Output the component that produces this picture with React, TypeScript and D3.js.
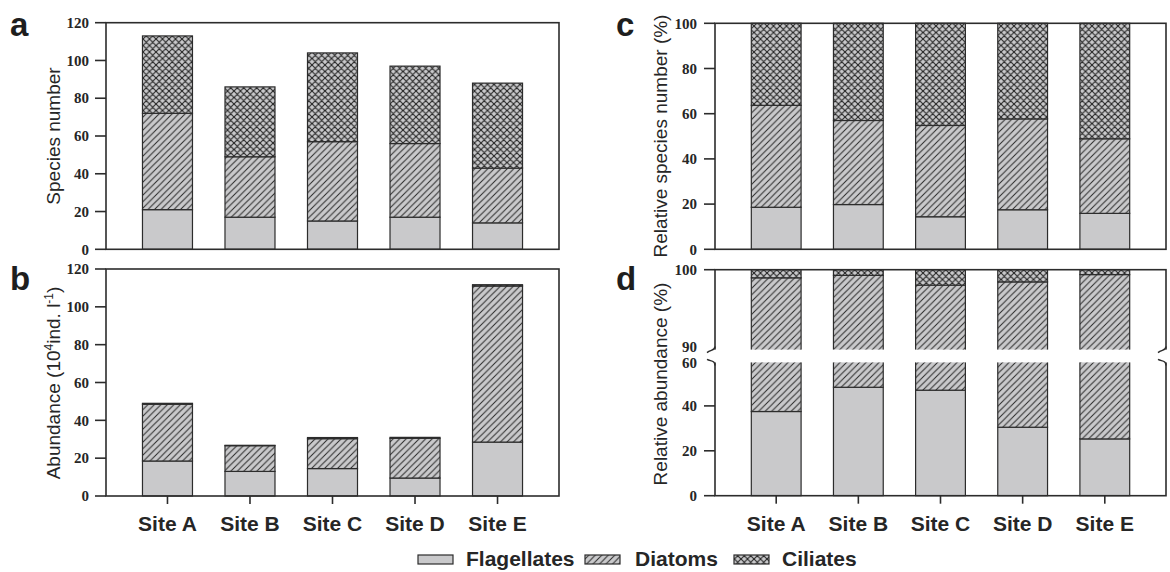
import React from "react";
import * as d3 from "d3";

const sites = ["Site A", "Site B", "Site C", "Site D", "Site E"];
const groups = ["Flagellates", "Diatoms", "Ciliates"];

// a: species number
const speciesFlagellates = [21, 17, 15, 17, 14];
const speciesDiatoms = [51, 32, 42, 39, 29];
const speciesCiliates = [41, 37, 47, 41, 45];
// b: abundance (10^4 ind. l-1)
const abundFlagellates = [18.5, 13, 14.5, 9.5, 28.5];
const abundDiatoms = [30, 13.6, 15.8, 21, 82.5];
const abundCiliates = [0.5, 0.2, 0.6, 0.5, 0.7];
// c: relative species number (%)
const relSpFlagellates = [18.6, 19.8, 14.4, 17.5, 15.9];
const relSpDiatoms = [45.1, 37.2, 40.4, 40.2, 33.0];
const relSpCiliates = [36.3, 43.0, 45.2, 42.3, 51.1];
// d: relative abundance (%)
const relAbFlagellates = [37.5, 48.3, 47.0, 30.5, 25.3];
const relAbDiatoms = [61.5, 51.0, 51.1, 68.0, 74.1];
const relAbCiliates = [1.0, 0.7, 1.9, 1.5, 0.6];

const ticksAB = [0, 20, 40, 60, 80, 100, 120];
const ticksC = [0, 20, 40, 60, 80, 100];
const ticksDLow = [0, 20, 40, 60];
const ticksDUp = [90, 100];

const GRAY = "#c9c9cb";
const INK = "#2c2c2c";
const TEXT = "#262626";
const fills: Record<string, string> = {
  Flagellates: GRAY,
  Diatoms: "url(#hatchDiag)",
  Ciliates: "url(#hatchCross)",
};

function makeStack(f: number[], d: number[], c: number[]) {
  const rows = sites.map((s, i) => ({ site: s, Flagellates: f[i], Diatoms: d[i], Ciliates: c[i] }));
  return d3.stack<any>().keys(groups)(rows);
}

function xScale(left: number, right: number) {
  return d3.scaleBand<string>().domain(sites).range([left, right]).paddingInner(0.394).paddingOuter(0.442);
}

const tickFont = { fontFamily: "'Liberation Serif', 'Times New Roman', serif", fontWeight: 700, fontSize: 15, fill: TEXT };
const titleFont = { fontFamily: "'Liberation Sans', Arial, sans-serif", fontSize: 19, fill: TEXT };
const letterFont = { fontFamily: "'Liberation Sans', Arial, sans-serif", fontWeight: 700, fontSize: 33, fill: "#1e1e1e" };
const siteFont = { fontFamily: "'Liberation Sans', Arial, sans-serif", fontWeight: 700, fontSize: 21, fill: TEXT };

function SimplePanel({ left, right, top, bottom, max, ticks, stack, xTicks, labelX }: any) {
  const x = xScale(left, right);
  const y = d3.scaleLinear().domain([0, max]).range([bottom, top]);
  return (
    <g>
      {stack.map((ser: any) =>
        ser.map((d: any, i: number) => (
          <rect
            key={ser.key + i}
            x={x(sites[i])}
            width={x.bandwidth()}
            y={y(d[1])}
            height={Math.max(0, y(d[0]) - y(d[1]))}
            fill={fills[ser.key]}
            stroke={INK}
            strokeWidth={1.2}
          />
        ))
      )}
      <rect x={left} y={top} width={right - left} height={bottom - top} fill="none" stroke={INK} strokeWidth={1.6} />
      {ticks.map((t: number) => (
        <g key={t}>
          <line x1={left - 11} x2={left} y1={y(t)} y2={y(t)} stroke={INK} strokeWidth={1.6} />
          <text x={labelX} y={y(t)} dy="0.35em" textAnchor="end" {...tickFont}>{t}</text>
        </g>
      ))}
      {xTicks &&
        sites.map((s) => (
          <line key={s} x1={x(s)! + x.bandwidth() / 2} x2={x(s)! + x.bandwidth() / 2} y1={bottom} y2={bottom + 8} stroke={INK} strokeWidth={1.6} />
        ))}
    </g>
  );
}

function BrokenPanel({ left, right, top, bottom, stack, labelX }: any) {
  const x = xScale(left, right);
  const yUp = d3.scaleLinear().domain([90, 100]).range([351, top]);
  const yLow = d3.scaleLinear().domain([0, 60]).range([bottom, 361]);
  const gapTop = 349.6;
  const gapBot = 362.4;
  return (
    <g>
      {stack.map((ser: any) =>
        ser.map((d: any, i: number) => {
          const parts: any[] = [];
          if (d[0] < 60) {
            const a = yLow(Math.min(d[1], 60));
            const b = yLow(d[0]);
            parts.push(<rect key={"l" + ser.key + i} x={x(sites[i])} width={x.bandwidth()} y={a} height={Math.max(0, b - a)} fill={fills[ser.key]} stroke={INK} strokeWidth={1.2} />);
          }
          if (d[1] > 90) {
            const a = yUp(d[1]);
            const b = yUp(Math.max(d[0], 90));
            parts.push(<rect key={"u" + ser.key + i} x={x(sites[i])} width={x.bandwidth()} y={a} height={Math.max(0, b - a)} fill={fills[ser.key]} stroke={INK} strokeWidth={1.2} />);
          }
          return parts;
        })
      )}
      <rect x={left} y={top} width={right - left} height={bottom - top} fill="none" stroke={INK} strokeWidth={1.6} />
      <rect x={left - 2} y={gapTop} width={right - left + 4} height={gapBot - gapTop} fill="#ffffff" />
      {/* break marks */}
      <path d={`M${left},${gapTop - 3} C${left},${gapTop + 1} ${left - 4},${gapTop} ${left - 8},${gapTop + 3}`} fill="none" stroke={INK} strokeWidth={1.5} />
      <path d={`M${left - 8},${gapBot - 3} C${left - 4},${gapBot - 1} ${left},${gapBot - 2} ${left},${gapBot + 3}`} fill="none" stroke={INK} strokeWidth={1.5} />
      <path d={`M${right},${gapTop - 3} C${right},${gapTop + 1} ${right - 4},${gapTop} ${right - 8},${gapTop + 3}`} fill="none" stroke={INK} strokeWidth={1.5} />
      <path d={`M${right - 8},${gapBot - 3} C${right - 4},${gapBot - 1} ${right},${gapBot - 2} ${right},${gapBot + 3}`} fill="none" stroke={INK} strokeWidth={1.5} />
      {ticksDLow.filter((t) => t < 60).map((t) => (
        <line key={"tl" + t} x1={left - 11} x2={left} y1={yLow(t)} y2={yLow(t)} stroke={INK} strokeWidth={1.6} />
      ))}
      <line x1={left - 11} x2={left} y1={yUp(100)} y2={yUp(100)} stroke={INK} strokeWidth={1.6} />
      {ticksDLow.map((t) => (
        <text key={"ll" + t} x={labelX} y={yLow(t) + (t === 60 ? 2 : 0)} dy="0.35em" textAnchor="end" {...tickFont}>{t}</text>
      ))}
      {ticksDUp.map((t) => (
        <text key={"lu" + t} x={labelX} y={yUp(t) - (t === 90 ? 4.5 : 0)} dy="0.35em" textAnchor="end" {...tickFont}>{t}</text>
      ))}
      {sites.map((s) => (
        <line key={s} x1={x(s)! + x.bandwidth() / 2} x2={x(s)! + x.bandwidth() / 2} y1={bottom} y2={bottom + 8} stroke={INK} strokeWidth={1.6} />
      ))}
    </g>
  );
}

export default function App() {
  const stA = makeStack(speciesFlagellates, speciesDiatoms, speciesCiliates);
  const stB = makeStack(abundFlagellates, abundDiatoms, abundCiliates);
  const stC = makeStack(relSpFlagellates, relSpDiatoms, relSpCiliates);
  const stD = makeStack(relAbFlagellates, relAbDiatoms, relAbCiliates);
  const xL = xScale(106, 559);
  const xR = xScale(715, 1166);
  const legend = [
    { key: "Flagellates", sx: 418, tx: 466 },
    { key: "Diatoms", sx: 585, tx: 635 },
    { key: "Ciliates", sx: 734, tx: 782 },
  ];
  return (
    <svg width={1170} height={572} style={{ position: "absolute", left: 0, top: 0, background: "#fff" }}>
      <defs>
        <pattern id="hatchDiag" patternUnits="userSpaceOnUse" width={6.5} height={6.5}>
          <rect width={6.5} height={6.5} fill={GRAY} />
          <path d="M-1,1 l2,-2 M0,6.5 l6.5,-6.5 M5.5,7.5 l2,-2" stroke="#2a2a2a" strokeWidth={1} />
        </pattern>
        <pattern id="hatchCross" patternUnits="userSpaceOnUse" width={6.5} height={6.5}>
          <rect width={6.5} height={6.5} fill={GRAY} />
          <path d="M-1,1 l2,-2 M0,6.5 l6.5,-6.5 M5.5,7.5 l2,-2 M-1,5.5 l2,2 M0,0 l6.5,6.5 M5.5,-1 l2,2" stroke="#222" strokeWidth={1.1} />
        </pattern>
      </defs>
      <rect width={1170} height={572} fill="#fff" />

      <SimplePanel left={106} right={559} top={22.7} bottom={249.3} max={120} ticks={ticksAB} stack={stA} xTicks={false} labelX={89} />
      <SimplePanel left={106} right={559} top={269} bottom={496} max={120} ticks={ticksAB} stack={stB} xTicks={true} labelX={89} />
      <SimplePanel left={715} right={1166} top={23.3} bottom={249.3} max={100} ticks={ticksC} stack={stC} xTicks={false} labelX={697} />
      <BrokenPanel left={715} right={1166} top={269.7} bottom={495.7} stack={stD} labelX={697} />

      {/* panel letters */}
      <text x={10} y={36} {...letterFont}>a</text>
      <text x={10} y={290} {...letterFont}>b</text>
      <text x={616} y={36} {...letterFont}>c</text>
      <text x={616} y={290} {...letterFont}>d</text>

      {/* axis titles */}
      <text transform="translate(60,136) rotate(-90)" textAnchor="middle" {...titleFont}>Species number</text>
      <text transform="translate(60,383) rotate(-90)" textAnchor="middle" {...titleFont}>
        Abundance (10<tspan fontSize={12} dy={-7}>4</tspan><tspan dy={7}>ind. l</tspan><tspan fontSize={12} dy={-7}>-1</tspan><tspan dy={7}>)</tspan>
      </text>
      <text transform="translate(667,136) rotate(-90)" textAnchor="middle" {...titleFont}>Relative species number (%)</text>
      <text transform="translate(667,384) rotate(-90)" textAnchor="middle" {...titleFont}>Relative abundance (%)</text>

      {/* x labels */}
      {sites.map((s) => (
        <text key={"xl" + s} x={xL(s)! + xL.bandwidth() / 2} y={531} textAnchor="middle" {...siteFont}>{s}</text>
      ))}
      {sites.map((s) => (
        <text key={"xr" + s} x={xR(s)! + xR.bandwidth() / 2} y={531} textAnchor="middle" {...siteFont}>{s}</text>
      ))}

      {/* legend */}
      {legend.map((l) => (
        <g key={l.key}>
          <rect x={l.sx} y={555} width={35} height={9} fill={fills[l.key]} stroke={INK} strokeWidth={1.2} />
          <text x={l.tx} y={566} {...siteFont}>{l.key}</text>
        </g>
      ))}
    </svg>
  );
}
